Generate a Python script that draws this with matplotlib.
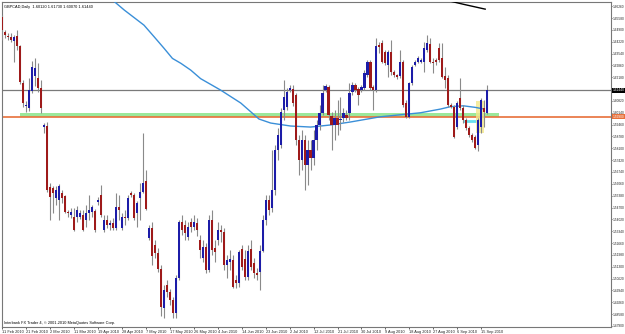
import matplotlib.pyplot as plt
import matplotlib.transforms as mtransforms
from matplotlib.patches import Rectangle

# GBPCAD daily candles, 11 Feb 2010 .. 17 Sep 2010 (Sunday bars included)
opens = [1.6563, 1.6477, 1.6454, 1.6449, 1.6426, 1.6454, 1.6397, 1.6185, 1.6053, 1.6041,
         1.6139, 1.6225, 1.6213, 1.6156, 1.5932, 1.5938, 1.5588, 1.5582, 1.5525, 1.5513,
         1.5553, 1.5536, 1.5444, 1.5427, 1.5415, 1.5415, 1.5415, 1.5427, 1.5398, 1.5438,
         1.5444, 1.5450, 1.5502, 1.5542, 1.5341, 1.5398, 1.5370, 1.5381, 1.5352, 1.5473,
         1.5352, 1.5415, 1.5410, 1.5553, 1.5542, 1.5438, 1.5525, 1.5559, 1.5622, 1.5295,
         1.5352, 1.5255, 1.5209, 1.5117, 1.4893, 1.5025, 1.4985, 1.4939, 1.4864, 1.5065,
         1.5387, 1.5370, 1.5301, 1.5387, 1.5358, 1.5381, 1.5283, 1.5180, 1.5243, 1.5111,
         1.5398, 1.5238, 1.5283, 1.5341, 1.5329, 1.5140, 1.5157, 1.5169, 1.5054, 1.5037,
         1.5232, 1.5174, 1.5071, 1.5232, 1.5152, 1.5094, 1.5100, 1.5220, 1.5398, 1.5513,
         1.5467, 1.5570, 1.5800, 1.5829, 1.6030, 1.6047, 1.6144, 1.6150, 1.6116, 1.5857,
         1.5743, 1.5857, 1.5714, 1.5800, 1.5754, 1.5857, 1.5944, 1.6012, 1.6144, 1.6162,
         1.5995, 1.5944, 1.5984, 1.5972, 1.5984, 1.6001, 1.6012, 1.6133, 1.6173, 1.6150,
         1.6144, 1.6156, 1.6230, 1.6305, 1.6162, 1.6144, 1.6403, 1.6414, 1.6363, 1.6288,
         1.6363, 1.6248, 1.6230, 1.6225, 1.6305, 1.6070, 1.5989, 1.6185, 1.6288, 1.6305,
         1.6305, 1.6305, 1.6374, 1.6408, 1.6305, 1.6317, 1.6385, 1.6328, 1.6225, 1.6213,
         1.6058, 1.6047, 1.5932, 1.6098, 1.6041, 1.5972, 1.5926, 1.5886, 1.5875, 1.5829,
         1.5932, 1.6041, 1.6012]
highs = [1.6575, 1.6489, 1.6472, 1.6472, 1.6460, 1.6489, 1.6403, 1.6202, 1.6081, 1.6213,
         1.6311, 1.6328, 1.6299, 1.6202, 1.5955, 1.5961, 1.5611, 1.5593, 1.5593, 1.5605,
         1.5570, 1.5542, 1.5456, 1.5467, 1.5467, 1.5479, 1.5456, 1.5456, 1.5484, 1.5542,
         1.5484, 1.5461, 1.5530, 1.5599, 1.5427, 1.5427, 1.5398, 1.5410, 1.5553, 1.5542,
         1.5438, 1.5456, 1.5542, 1.5565, 1.5553, 1.5507, 1.5611, 1.5898, 1.5685, 1.5370,
         1.5387, 1.5283, 1.5238, 1.5140, 1.5025, 1.5054, 1.5002, 1.4956, 1.5083, 1.5398,
         1.5427, 1.5398, 1.5387, 1.5410, 1.5427, 1.5410, 1.5312, 1.5283, 1.5266, 1.5427,
         1.5456, 1.5283, 1.5387, 1.5370, 1.5352, 1.5197, 1.5226, 1.5197, 1.5083, 1.5226,
         1.5255, 1.5226, 1.5255, 1.5283, 1.5180, 1.5123, 1.5255, 1.5427, 1.5542, 1.5542,
         1.5800, 1.5829, 1.5926, 1.6041, 1.6202, 1.6156, 1.6173, 1.6173, 1.6127, 1.5886,
         1.5915, 1.5886, 1.5857, 1.5857, 1.5915, 1.5972, 1.6058, 1.6173, 1.6179, 1.6173,
         1.6018, 1.6030, 1.6087, 1.6104, 1.6041, 1.6030, 1.6185, 1.6190, 1.6185, 1.6162,
         1.6173, 1.6259, 1.6317, 1.6317, 1.6173, 1.6443, 1.6420, 1.6431, 1.6374, 1.6374,
         1.6431, 1.6259, 1.6236, 1.6374, 1.6317, 1.6087, 1.6190, 1.6288, 1.6317, 1.6340,
         1.6328, 1.6420, 1.6460, 1.6443, 1.6328, 1.6328, 1.6414, 1.6414, 1.6276, 1.6230,
         1.6070, 1.6058, 1.6081, 1.6213, 1.6058, 1.5984, 1.5938, 1.5898, 1.5886, 1.5984,
         1.6098, 1.6087, 1.6173]
lows = [1.6431, 1.6443, 1.6431, 1.6420, 1.6305, 1.6374, 1.6179, 1.6047, 1.6018, 1.6024,
        1.6127, 1.6167, 1.6133, 1.6012, 1.5898, 1.5559, 1.5398, 1.5438, 1.5484, 1.5398,
        1.5496, 1.5438, 1.5415, 1.5410, 1.5335, 1.5387, 1.5404, 1.5335, 1.5358, 1.5398,
        1.5415, 1.5329, 1.5484, 1.5415, 1.5329, 1.5352, 1.5341, 1.5341, 1.5341, 1.5398,
        1.5341, 1.5370, 1.5398, 1.5530, 1.5398, 1.5358, 1.5398, 1.5553, 1.5456, 1.5283,
        1.5140, 1.5180, 1.5100, 1.4847, 1.4836, 1.4956, 1.4910, 1.4836, 1.4836, 1.5054,
        1.5312, 1.5283, 1.5283, 1.5329, 1.5341, 1.5306, 1.5180, 1.5157, 1.5094, 1.5100,
        1.5197, 1.5157, 1.5255, 1.5272, 1.5111, 1.5065, 1.5111, 1.5008, 1.5008, 1.5014,
        1.5111, 1.5054, 1.5054, 1.5111, 1.5065, 1.5054, 1.4997, 1.5214, 1.5370, 1.5427,
        1.5444, 1.5542, 1.5743, 1.5811, 1.5972, 1.6030, 1.6133, 1.6053, 1.5829, 1.5657,
        1.5685, 1.5570, 1.5599, 1.5685, 1.5714, 1.5800, 1.5915, 1.6001, 1.6133, 1.5972,
        1.5800, 1.5857, 1.5886, 1.5915, 1.5961, 1.5972, 1.5972, 1.6116, 1.6133, 1.6058,
        1.6133, 1.6144, 1.6219, 1.6144, 1.6030, 1.6133, 1.6357, 1.6299, 1.6288, 1.6219,
        1.6230, 1.6219, 1.6208, 1.6213, 1.6047, 1.5984, 1.5984, 1.6173, 1.6282, 1.6299,
        1.6299, 1.6248, 1.6363, 1.6299, 1.6242, 1.6288, 1.6305, 1.6213, 1.6156, 1.6047,
        1.6041, 1.5869, 1.5921, 1.6030, 1.5955, 1.5915, 1.5875, 1.5846, 1.5806, 1.5794,
        1.5898, 1.5932, 1.6007]
closes = [1.6489, 1.6460, 1.6449, 1.6431, 1.6449, 1.6397, 1.6190, 1.6070, 1.6058, 1.6144,
          1.6276, 1.6271, 1.6156, 1.6041, 1.5944, 1.5570, 1.5530, 1.5553, 1.5570, 1.5593,
          1.5525, 1.5444, 1.5438, 1.5444, 1.5341, 1.5456, 1.5438, 1.5341, 1.5438, 1.5456,
          1.5473, 1.5341, 1.5513, 1.5427, 1.5398, 1.5370, 1.5381, 1.5352, 1.5473, 1.5456,
          1.5415, 1.5410, 1.5525, 1.5542, 1.5410, 1.5496, 1.5559, 1.5611, 1.5461, 1.5352,
          1.5192, 1.5209, 1.5117, 1.4899, 1.4997, 1.4985, 1.4939, 1.4864, 1.5065, 1.5387,
          1.5341, 1.5324, 1.5358, 1.5358, 1.5387, 1.5341, 1.5226, 1.5243, 1.5111, 1.5398,
          1.5226, 1.5214, 1.5341, 1.5329, 1.5140, 1.5169, 1.5174, 1.5014, 1.5037, 1.5214,
          1.5128, 1.5071, 1.5220, 1.5128, 1.5094, 1.5083, 1.5220, 1.5398, 1.5513, 1.5456,
          1.5570, 1.5800, 1.5886, 1.6018, 1.6104, 1.6133, 1.6156, 1.6070, 1.5857, 1.5743,
          1.5857, 1.5714, 1.5800, 1.5754, 1.5857, 1.5944, 1.6012, 1.6127, 1.6167, 1.6001,
          1.5944, 1.5984, 1.5944, 1.5978, 1.6012, 1.5984, 1.6127, 1.6173, 1.6144, 1.6116,
          1.6162, 1.6242, 1.6305, 1.6156, 1.6144, 1.6397, 1.6391, 1.6305, 1.6299, 1.6363,
          1.6248, 1.6230, 1.6219, 1.6305, 1.6058, 1.5989, 1.6185, 1.6276, 1.6305, 1.6328,
          1.6317, 1.6385, 1.6414, 1.6305, 1.6299, 1.6305, 1.6317, 1.6219, 1.6202, 1.6058,
          1.6047, 1.5875, 1.6070, 1.6041, 1.5972, 1.5926, 1.5886, 1.5857, 1.5811, 1.5972,
          1.6087, 1.6018, 1.6144]

# moving averages (bar index, price)
blue_ma_bar = [33, 36.9, 40.8, 45.2, 47.4, 50.8, 54.1, 56.9, 59.7, 63, 66.3, 73, 79.7, 85.8,
               89.7, 96.3, 103, 109.7, 116.3, 126.3, 139.7, 146.3, 149.7, 154, 158, 161]
blue_ma_val = [1.6690, 1.6661, 1.6604, 1.6546, 1.6517, 1.6450, 1.6384, 1.6326, 1.6298, 1.6259,
               1.6210, 1.6144, 1.6070, 1.5978, 1.5955, 1.5938, 1.5932, 1.5944, 1.5961, 1.5991,
               1.6014, 1.6035, 1.6049, 1.6054, 1.6045, 1.6035]
black_ma_bar = [146, 154, 161.3]
black_ma_val = [1.6670, 1.6637, 1.6609]

# drawn objects
orange_level = 1.5990
green_zone = (1.5989, 1.6012)
green_from, green_to = 6, 166
cyan_level, cyan_from, cyan_to = 1.5968, 154.7, 158.7
yellow_box = (158.3, 161.0, 1.5898, 1.6081)

price_ticks = [1.4790, 1.4858, 1.4926, 1.4994, 1.5062, 1.5130, 1.5198, 1.5266, 1.5334, 1.5402,
               1.5470, 1.5538, 1.5606, 1.5674, 1.5742, 1.5810, 1.5878, 1.5946, 1.6014, 1.6082,
               1.6150, 1.6218, 1.6286, 1.6354, 1.6422, 1.6490, 1.6558, 1.6626]
date_labels = ["11 Feb 2010", "21 Feb 2010", "2 Mar 2010", "11 Mar 2010", "19 Apr 2010",
               "28 Apr 2010", "7 May 2010", "17 May 2010", "26 May 2010", "4 Jun 2010",
               "14 Jun 2010", "23 Jun 2010", "2 Jul 2010", "12 Jul 2010", "21 Jul 2010",
               "30 Jul 2010", "9 Aug 2010", "18 Aug 2010", "27 Aug 2010", "6 Sep 2010",
               "15 Sep 2010"]
bars_per_label = 8

BULL = '#1c1ca8'
BEAR = '#9e1a1a'
WICK = '#8a8a8a'
FONT = 'Liberation Sans'
FS = 2.8
FS_PRICE = 2.3

fig = plt.figure(figsize=(6.25, 3.34), dpi=100)
fig.patch.set_facecolor('white')
ax = fig.add_axes([2 / 625, 7 / 334, 609 / 625, 325 / 334])

idx = list(range(len(opens)))

# levels first so candles sit on top
ax.fill_between([green_from, green_to], green_zone[0], green_zone[1],
                color='#9be89b', lw=0, zorder=1)
ax.axhline(orange_level, color='#e8703a', lw=1.2, zorder=1.5)
ax.axhline(closes[-1], color='#7a7a7a', lw=0.9, zorder=1.5)
ax.plot([cyan_from, cyan_to], [cyan_level, cyan_level], color='#66e0f0', lw=2, zorder=2)
x0, x1, y0, y1 = yellow_box
ax.add_patch(Rectangle((x0, y0), x1 - x0, y1 - y0, facecolor='#f3e88a', alpha=0.8,
                       edgecolor='none', zorder=2))

ax.plot(blue_ma_bar, blue_ma_val, color='#3a8fd8', lw=1, zorder=3)
ax.plot(black_ma_bar, black_ma_val, color='black', lw=1, zorder=3)

ax.vlines(idx, lows, highs, color=WICK, lw=0.8, zorder=4)
bottoms = [min(o, c) for o, c in zip(opens, closes)]
heights = [max(abs(c - o), 0.0006) for o, c in zip(opens, closes)]
colors = [BULL if c >= o else BEAR for o, c in zip(opens, closes)]
ax.bar(idx, heights, bottom=bottoms, width=0.7, color=colors, lw=0, zorder=5)

ax.set_xlim(0.33, 203.3)
ax.set_ylim(1.4784, 1.6650)

ax.yaxis.tick_right()
ax.set_yticks(price_ticks)
ax.set_yticklabels([f'{p:.5f}' for p in price_ticks], fontfamily=FONT)
ax.tick_params(axis='y', length=1, width=0.5, labelsize=FS_PRICE, pad=0.5, colors='#222222')
date_pos = [i * bars_per_label for i in range(len(date_labels))]
ax.set_xticks(date_pos)
ax.set_xticklabels(date_labels, fontfamily=FONT)
for lbl in ax.get_xticklabels():
    lbl.set_horizontalalignment('left')
ax.tick_params(axis='x', length=1.5, width=0.5, labelsize=FS, pad=0.8, colors='#222222')
for s in ax.spines.values():
    s.set_color('#777777')
    s.set_linewidth(0.8)

tr = mtransforms.blended_transform_factory(ax.transAxes, ax.transData)
ax.text(1.003, closes[-1], f'{closes[-1]:.5f}', transform=tr, fontsize=FS_PRICE, color='white',
        family=FONT, va='center', ha='left',
        bbox=dict(boxstyle='square,pad=0.15', fc='black', ec='none'))
ax.text(1.003, orange_level, f'{orange_level:.5f}', transform=tr, fontsize=FS_PRICE, color='white',
        family=FONT, va='center', ha='left',
        bbox=dict(boxstyle='square,pad=0.15', fc='#e8703a', ec='none'))

ax.text(0.003, 0.99, f'GBPCAD,Daily  {opens[-1]:.5f} {highs[-1]:.5f} {lows[-1]:.5f} {closes[-1]:.5f}',
        transform=ax.transAxes, fontsize=FS, family=FONT, va='top', ha='left')
ax.text(0.003, 0.006, 'Interbank FX Trader 4, © 2001-2010 MetaQuotes Software Corp.',
        transform=ax.transAxes, fontsize=FS, family=FONT, va='bottom', ha='left')

fig.savefig('out.png', dpi=100)
